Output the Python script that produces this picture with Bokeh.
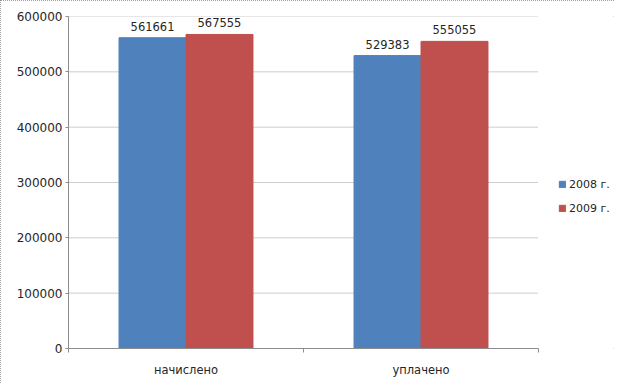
from bokeh.plotting import figure
from bokeh.models import (ColumnDataSource, FixedTicker, Range1d, Legend, LegendItem,
                          LabelSet)
from bokeh.core.properties import value
from bokeh.embed import file_html
from bokeh.resources import INLINE

categories = ["начислено", "уплачено"]
series_names = ["2008 г.", "2009 г."]
values_2008 = [561661, 529383]
values_2009 = [567555, 555055]
y_ticks = [0, 100000, 200000, 300000, 400000, 500000, 600000]

colors = ["#4F81BD", "#C0504D"]
FONT = "DejaVu Sans"
TXT = "#262626"
GRID = "#9a9a9a"
AXIS = "#8c8c8c"

n = len(categories)
centers = [i + 0.5 for i in range(n)]
bar_w = 0.285
x08 = [c - bar_w / 2 for c in centers]
x09 = [c + bar_w / 2 for c in centers]

W, H = 614, 383
left, right, top, bottom = 68, 0, 16, 35
plot_px = 470  # pixel width of the category area
frame_w = W - left - right
x_end = n * frame_w / plot_px

p = figure(width=W, height=H, output_backend="svg", toolbar_location=None,
           x_range=Range1d(0, x_end), y_range=Range1d(0, max(y_ticks)),
           min_border_left=left, min_border_right=right, min_border_top=top,
           min_border_bottom=bottom)
p.outline_line_color = None
p.background_fill_color = "white"
p.border_fill_color = "white"
p.styles = {"outline": "1px dotted #7f7f7f", "outline-offset": "-1px"}

# horizontal gridlines limited to the category area
p.segment(x0=[0] * len(y_ticks), x1=[n] * len(y_ticks), y0=y_ticks, y1=y_ticks,
          line_color=GRID, line_dash="1 1", line_width=1)

s08 = ColumnDataSource(dict(x=x08, top=values_2008, lab=[str(v) for v in values_2008]))
s09 = ColumnDataSource(dict(x=x09, top=values_2009, lab=[str(v) for v in values_2009]))
r1 = p.vbar(x="x", top="top", width=bar_w, bottom=0, source=s08, fill_color=colors[0],
            line_color=colors[0])
r2 = p.vbar(x="x", top="top", width=bar_w, bottom=0, source=s09, fill_color=colors[1],
            line_color=colors[1])

for src in (s08, s09):
    p.add_layout(LabelSet(x="x", y="top", text="lab", source=src, text_align="center",
                          text_baseline="bottom", y_offset=7, text_font=value(FONT),
                          text_font_size=value("11.5px"), text_color=value(TXT)))

# axes
p.yaxis.ticker = FixedTicker(ticks=y_ticks)
p.yaxis.formatter.use_scientific = False
p.yaxis.major_label_text_font = FONT
p.yaxis.major_label_text_font_size = "12px"
p.yaxis.major_label_text_color = TXT
p.yaxis.axis_line_color = AXIS
p.yaxis.major_tick_line_color = AXIS
p.yaxis.major_tick_out = 3
p.yaxis.major_tick_in = 0
p.yaxis.minor_tick_line_color = None
p.yaxis.major_label_standoff = 3

p.xaxis.bounds = (0, n)
p.xaxis.ticker = FixedTicker(ticks=centers, minor_ticks=list(range(n + 1)))
p.xaxis.major_label_overrides = {c: nm for c, nm in zip(centers, categories)}
p.xaxis.major_label_text_font = FONT
p.xaxis.major_label_text_font_size = "11.5px"
p.xaxis.major_label_text_color = TXT
p.xaxis.major_label_standoff = 8
p.xaxis.axis_line_color = AXIS
p.xaxis.major_tick_line_color = None
p.xaxis.minor_tick_line_color = AXIS
p.xaxis.minor_tick_out = 4
p.xaxis.minor_tick_in = 0

p.xgrid.grid_line_color = None
p.ygrid.grid_line_color = None

legend = Legend(items=[LegendItem(label=series_names[0], renderers=[r1]),
                       LegendItem(label=series_names[1], renderers=[r2])],
                location=(plot_px + 20, 131), orientation="vertical")
legend.border_line_color = None
legend.background_fill_alpha = 0
legend.padding = 0
legend.margin = 0
legend.spacing = 6
legend.label_height = 18
legend.glyph_height = 8
legend.glyph_width = 8
legend.label_standoff = 3
legend.label_text_font = FONT
legend.label_text_font_size = "11px"
legend.label_text_color = TXT
p.add_layout(legend, "center")

open("out.html", "w").write(file_html(p, INLINE))
